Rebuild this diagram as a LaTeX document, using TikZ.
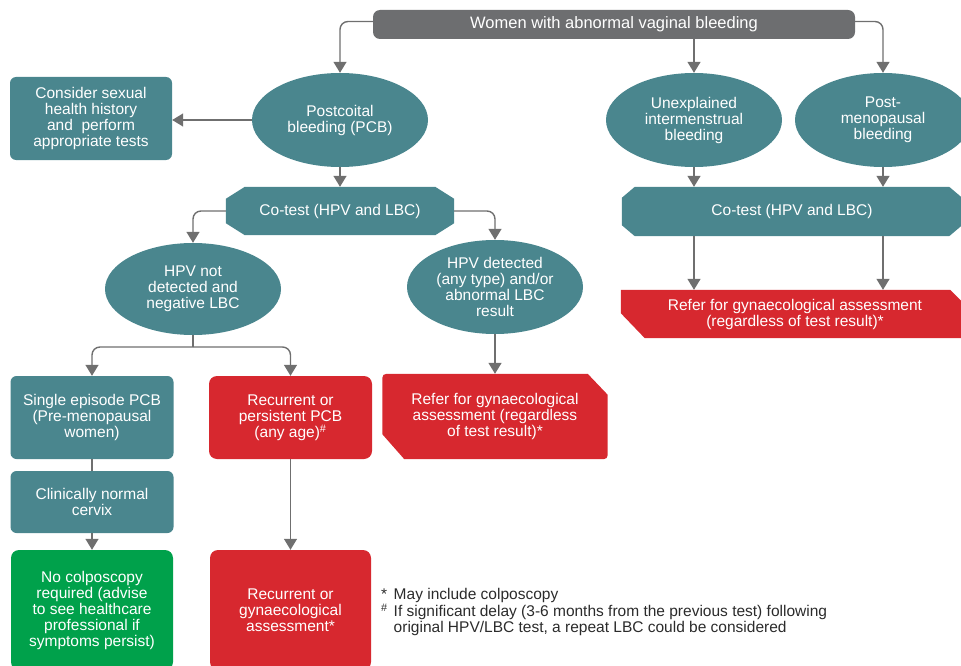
\documentclass[tikz,border=0pt]{standalone}
\usepackage{fontspec}
\setmainfont{Liberation Sans}
\usetikzlibrary{shapes.geometric,arrows.meta,backgrounds}
\definecolor{tealc}{HTML}{4A868E}
\definecolor{redc}{HTML}{D7282F}
\definecolor{greenc}{HTML}{00A14B}
\definecolor{greyc}{HTML}{6D6E70}
\definecolor{linec}{HTML}{6F6F6F}
\definecolor{notec}{HTML}{2B2B2B}

\begin{document}
\begin{tikzpicture}[x=1pt,y=-1pt,
  txt/.style={text=white,font=\fontsize{15.5}{16}\selectfont,align=center,inner sep=0pt},
  oval/.style={txt,ellipse,fill=tealc,minimum width=176pt,minimum height=94pt},
  tbox/.style={txt,rectangle,rounded corners=6pt,fill=tealc},
  rbox/.style={txt,rectangle,rounded corners=8pt,fill=redc},
  gbox/.style={txt,rectangle,rounded corners=8pt,fill=greenc},
  frame/.style={txt,rectangle},
  headbox/.style={txt,rectangle,rounded corners=7pt,fill=greyc,
    font=\fontsize{16.5}{17}\selectfont,minimum width=482pt,minimum height=29pt},
  conn/.style={draw=linec,line width=1.4pt,-{Triangle[width=13pt,length=11pt]},rounded corners=8pt},
  link/.style={draw=linec,line width=1.4pt,rounded corners=8pt},
  notes/.style={text=notec,font=\fontsize{15.5}{15.5}\selectfont,inner sep=0pt,anchor=north west}
]
\useasboundingbox (0,0) rectangle (961,666);

% --- boxes and ovals ---
\node[headbox] (title) at (614,24.5) {Women with abnormal vaginal bleeding};

\node[tbox,minimum width=162pt,minimum height=83pt] (consider) at (91,118.5)
  {Consider sexual\\health history\\and \ perform\\appropriate tests};
\node[oval] (pcb) at (340,120) {Postcoital\\bleeding (PCB)};
\node[oval] (uib) at (694,120) {Unexplained\\intermenstrual\\bleeding};
\node[oval] (pmb) at (883,120) {Post-\\menopausal\\bleeding};

\node[frame,minimum width=228pt,minimum height=48pt] (cotest1) at (340,211) {Co-test (HPV and LBC)};
\node[frame,minimum width=340pt,minimum height=49pt] (cotest2) at (792,211.5) {Co-test (HPV and LBC)};

\node[oval,minimum height=92pt] (hpvneg) at (193,289) {HPV not\\detected and\\negative LBC};
\node[oval] (hpvpos) at (495,287) {HPV detected\\(any type) and/or\\abnormal LBC\\result};

\node[frame,minimum width=348pt,minimum height=48pt] (refer2) at (795,314)
  {Refer for gynaecological assessment\\(regardless of test result)*};

\node[tbox,minimum width=163pt,minimum height=83pt] (single) at (92,417.5)
  {Single episode PCB\\(Pre-menopausal\\women)};
\node[tbox,minimum width=163pt,minimum height=62pt] (clin) at (92,502)
  {Clinically normal\\cervix};
\node[rbox,minimum width=163pt,minimum height=83pt] (recur) at (290.5,417.5)
  {Recurrent or\\persistent PCB\\(any age)\textsuperscript{\#}};
\node[frame,minimum width=225pt,minimum height=85pt] (refer1) at (495,416.5)
  {Refer for gynaecological\\assessment (regardless\\of test result)*};

\node[gbox,minimum width=162pt,minimum height=120pt] (nocol) at (92,610)
  {No colposcopy\\required (advise\\to see healthcare\\professional if\\symptoms persist)};
\node[rbox,minimum width=161pt,minimum height=120pt] (recur2) at (290.5,610)
  {Recurrent or\\gynaecological\\assessment*};

\node[notes] (notes) at (381,588) {%
  \begin{tabular}{@{}l@{\hspace{6pt}}l@{}}
  * & May include colposcopy\\
  \textsuperscript{\#} & If significant delay (3-6 months from the previous test) following\\
   & original HPV/LBC test, a repeat LBC could be considered
  \end{tabular}};

% --- chamfered shapes behind their labels ---
\begin{scope}[on background layer]
  \fill[tealc] ([xshift=19]cotest1.north west) -- ([xshift=-19]cotest1.north east)
    -- ([yshift=-12]cotest1.north east) -- ([yshift=12]cotest1.south east)
    -- ([xshift=-19]cotest1.south east) -- ([xshift=19]cotest1.south west)
    -- ([yshift=12]cotest1.south west) -- ([yshift=-12]cotest1.north west) -- cycle;
  \fill[tealc] ([xshift=13]cotest2.north west) -- ([xshift=-13]cotest2.north east)
    -- ([yshift=-11]cotest2.north east) -- ([yshift=11]cotest2.south east)
    -- ([xshift=-13]cotest2.south east) -- ([xshift=13]cotest2.south west)
    -- ([yshift=11]cotest2.south west) -- ([yshift=-11]cotest2.north west) -- cycle;
  \fill[redc] ([yshift=25]refer1.south west) -- ([yshift=-9]refer1.north west)
    .. controls (refer1.north west) .. ([xshift=9]refer1.north west)
    -- ([xshift=-20]refer1.north east) -- ([yshift=-21]refer1.north east)
    -- ([yshift=9]refer1.south east)
    .. controls (refer1.south east) .. ([xshift=-9]refer1.south east)
    -- ([xshift=22]refer1.south west) -- cycle;
  \fill[redc] (refer2.north west) -- ([xshift=-19]refer2.north east)
    -- ([yshift=-19]refer2.north east) -- (refer2.south east)
    -- ([xshift=24]refer2.south west) -- ([yshift=25]refer2.south west) -- cycle;
\end{scope}

% --- connectors ---
\draw[conn] ([yshift=3]title.west) -| (pcb.north);
\draw[conn] (title.south -| uib.north) -- (uib.north);
\draw[conn] ([yshift=3]title.east) -| (pmb.north);
\draw[conn] (pcb.west) -- (pcb.west -| consider.east);
\draw[conn] (pcb.south) -- (cotest1.north);
\draw[conn] (cotest1.west) -| (hpvneg.north);
\draw[conn] (cotest1.east) -| (hpvpos.north);
\draw[conn] (uib.south) -- (uib.south |- cotest2.north);
\draw[conn] (pmb.south) -- (pmb.south |- cotest2.north);
\draw[conn] (cotest2.south -| uib.south) -- (refer2.north -| uib.south);
\draw[conn] (cotest2.south -| pmb.south) -- (refer2.north -| pmb.south);
\coordinate (split) at (193,347);
\draw[link] (hpvneg.south) -- (split);
\draw[conn] (split) -| (single.north);
\draw[conn] (split) -| (recur.north);
\draw[link] (single.south) -- (clin.north);
\draw[conn] (clin.south) -- (nocol.north);
\draw[conn] (recur.south) -- (recur2.north);
\draw[conn] (hpvpos.south) -- (refer1.north);
\end{tikzpicture}
\end{document}
